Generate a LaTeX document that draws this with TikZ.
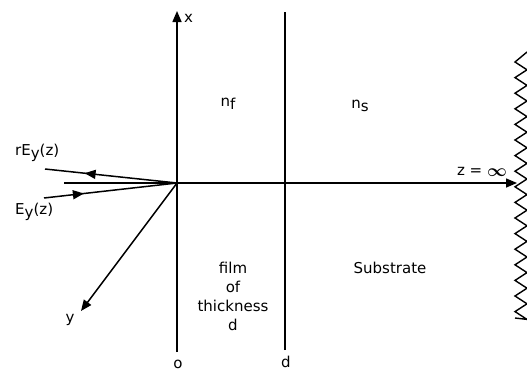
\documentclass[tikz,border=0pt]{standalone}
\usepackage{fontspec}
\setmainfont{DejaVu Sans}
\usetikzlibrary{arrows.meta,decorations.markings}
\begin{document}
\begin{tikzpicture}[x=1pt,y=-1pt,
  ln/.style={line width=1.5pt},
  tip/.style={-{Triangle[length=11pt,width=9pt]}},
  midarrow/.style={decoration={markings,mark=at position #1 with {\arrow{Triangle[length=11pt,width=9pt]}}},postaction={decorate}},
  lbl/.style={font=\fontsize{15}{19}\selectfont,inner sep=0pt}]
\useasboundingbox (0,0) rectangle (527,372);
\coordinate (O) at (177,183);
\coordinate (xtop) at (177,11);
\coordinate (xbot) at (177,352);
\coordinate (dtop) at (285,12);
\coordinate (dbot) at (285,350);
\coordinate (zleft) at (64,183);
\coordinate (zend) at (517,183);
\coordinate (yend) at (81,311);
\coordinate (inS) at (44,198);
\coordinate (reE) at (45,169);
% axes
\draw[ln,tip] (xbot) -- (xtop);
\draw[ln] (dbot) -- (dtop);
\draw[ln,tip] (zleft) -- (zend);
\draw[ln,tip] (O) -- (yend);
% rays
\draw[ln,midarrow=0.3] (inS) -- (O);
\draw[ln,midarrow=0.7] (O) -- (reE);
% zigzag
\draw[line width=1.4pt] (527,52)
  \foreach \k in {0,...,16} { -- (515,{62+15.6*\k}) -- (527,{69.8+15.6*\k}) } -- (515,318);
% labels
\node[lbl,anchor=west] (xl) at (184,18) {x};
\node[lbl] (nf) at (228,104) {n\raisebox{-0.4ex}{f}};
\node[lbl] (ns) at (360,106) {n\raisebox{-0.4ex}{s}};
\node[lbl] (zinf) at (482,172) {z = \raisebox{-0.05ex}{\fontsize{17}{17}\selectfont\boldmath$\infty$}};
\node[lbl,anchor=west] (rE) at (15,153) {rE\raisebox{-0.4ex}{y}(z)};
\node[lbl,anchor=west] (E) at (15,212) {E\raisebox{-0.4ex}{y}(z)};
\node[lbl] (yl) at (70,320) {y};
\node[lbl,align=center] (film) at (233,296) {film\\of\\thickness\\d};
\node[lbl] (sub) at (390,268) {Substrate};
\node[lbl] (ol) at (178,364) {o};
\node[lbl] (dl) at (286,362) {d};
\end{tikzpicture}
\end{document}
